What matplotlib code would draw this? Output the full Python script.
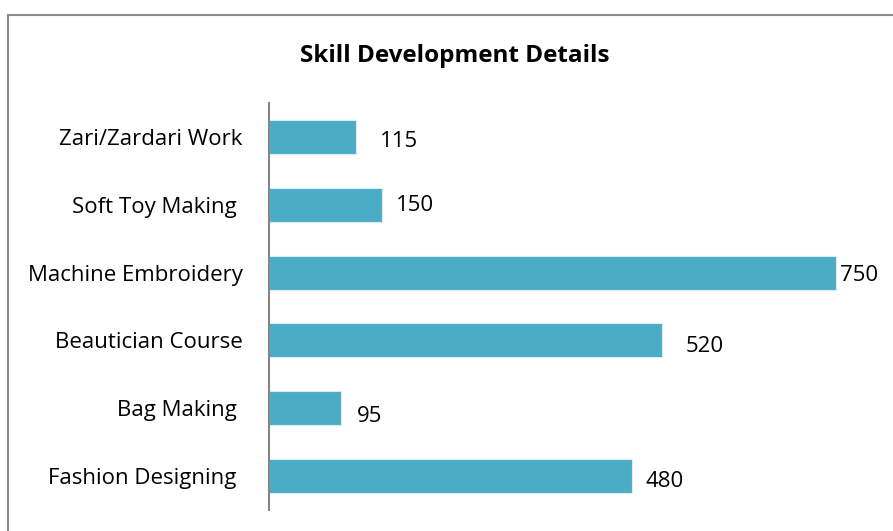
import matplotlib
matplotlib.use('Agg')
import matplotlib.pyplot as plt
from matplotlib.patches import Rectangle

plt.rcParams.update({
    "font.family": ["Open Sans", "DejaVu Sans"],
    "font.size": 16,
})

# data (top to bottom as shown)
courses = ["Zari/Zardari Work", "Soft Toy Making ", "Machine Embroidery",
           "Beautician Course", "Bag Making ", "Fashion Designing "]
trainees = [115, 150, 750, 520, 95, 480]

# hand-placed label nudges (pixels) as in the source chart
label_dx = [24, 14, 4, 24, 16, 14]
label_dy = [-5, -1, -3, -6, -8, -5]

BAR_COLOR = "#4BACC6"

fig = plt.figure(figsize=(8.93, 5.31), dpi=100)
W, H = 893, 531

# outer chart frame (runs off the right/bottom edge like the crop)
fig.patches.append(Rectangle((8 / W, -0.05), 1.0, (531 - 15) / H + 0.05,
                             transform=fig.transFigure, fill=False,
                             edgecolor="#8c8c8c", lw=1.5))

ax = fig.add_axes([269 / W, (531 - 510) / H, 800 * 0.756 / W, 407 / H])
ypos = list(range(len(courses)))
ax.barh(ypos, trainees, height=0.5, color=BAR_COLOR, edgecolor="#d9eef4", lw=0.8)
ax.set_ylim(len(courses) - 0.5, -0.5)
ax.set_xlim(0, 800)
ax.set_yticks(ypos)
ax.set_yticklabels(courses)
ax.tick_params(axis="y", length=0, pad=19)
ax.set_xticks([])
for s in ("top", "right", "bottom"):
    ax.spines[s].set_visible(False)
ax.spines["left"].set_color("#868686")
ax.spines["left"].set_linewidth(1.5)

for y, v, dx, dy in zip(ypos, trainees, label_dx, label_dy):
    ax.annotate(str(v), (v, y), xytext=(dx * 0.72, dy * 0.72), textcoords="offset points",
                ha="left", va="center", fontsize=16)

fig.text(455 / W, 1 - 56 / H, "Skill Development Details", ha="center", va="center",
         fontsize=17.5, fontweight="bold")

fig.savefig("out.png", dpi=100)
